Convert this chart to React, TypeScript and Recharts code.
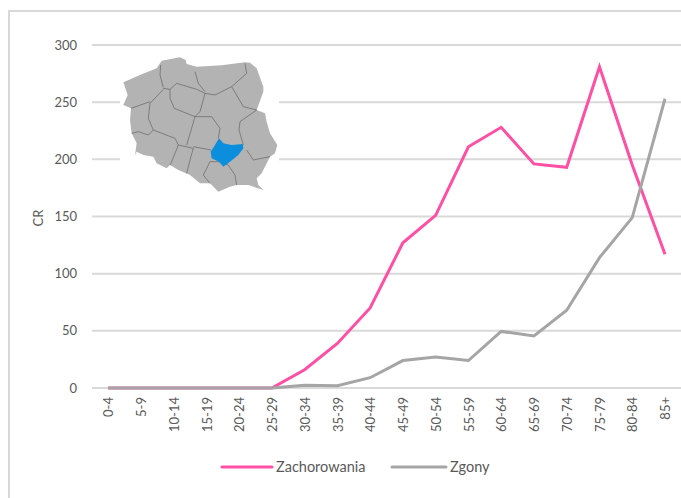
import React from 'react';
import { LineChart, Line, XAxis, YAxis, CartesianGrid, Legend } from 'recharts';

const ageGroups = ['0-4', '5-9', '10-14', '15-19', '20-24', '25-29', '30-34', '35-39', '40-44', '45-49', '50-54', '55-59', '60-64', '65-69', '70-74', '75-79', '80-84', '85+'];
const zachorowania = [0, 0, 0, 0, 0, 0, 16, 39, 70, 127, 151, 211, 228, 196, 193, 281, 195, 117];
const zgony = [0, 0, 0, 0, 0, 0, 2.5, 2, 9, 24, 27, 24, 49.5, 45.5, 68, 114, 149, 253];
const yTicks = [0, 50, 100, 150, 200, 250, 300];

const data = ageGroups.map((age, i) => ({ age, Zachorowania: zachorowania[i], Zgony: zgony[i] }));

const FONT = 'Lato, sans-serif';
const TEXT = '#595959';
const GRID = '#d9d9d9';
const PINK = '#ff4fa5';
const GREY = '#a5a5a5';

// inset map of Poland, outline
const polandOutline = 'M25,97 L75,75 L125,55 L140,32 L195,22 L212,30 L215,42 L245,50 L320,46 L390,37 L405,38 L425,55 L445,110 L445,125 L425,180 L450,190 L455,215 L465,250 L487,285 L480,310 L465,320 L440,370 L425,385 L430,405 L445,420 L400,405 L365,405 L345,410 L310,425 L285,400 L255,400 L225,375 L190,360 L165,345 L155,355 L125,340 L115,320 L85,315 L65,305 L60,315 L65,280 L50,250 L45,210 L48,175 L25,165 L38,135 Z';
const regionBorders = [
  'M137,45 L135,75 L145,112',
  'M240,65 L250,100 L270,125',
  'M390,40 L395,70 L350,110 L300,135 L270,130',
  'M145,115 L165,118 L185,100 L245,118 L270,130 L255,185 L240,200',
  'M165,118 L165,145 L178,175 L240,200',
  'M145,118 L105,160 L100,205 L115,240 L180,265 L190,285',
  'M48,175 L105,155',
  'M50,250 L70,245 L100,255 L115,240',
  'M190,285 L170,335 L165,345',
  'M190,285 L235,295 L225,330 L215,370',
  'M285,335 L265,375 L285,400',
  'M240,200 L215,285',
  'M240,200 L290,200 L315,235 L310,265',
  'M235,290 L288,300',
  'M350,110 L385,170 L425,180 L375,215 L372,240 L385,285',
  'M395,300 L415,330 L465,320',
  'M340,345 L360,375 L365,405',
  'M340,345 L310,335 L285,335',
];
const swietokrzyskie = 'M300,285 L312,265 L325,280 L350,285 L383,282 L385,295 L370,315 L345,335 L325,350 L312,335 L290,325 L287,305 Z';

const PolandMap = () => (
  <svg width={159} height={137} viewBox="0 0 477 411" style={{ position: 'absolute', left: 120, top: 55 }}>
    <rect width={477} height={411} fill="#ffffff" />
    <g transform="translate(-15,-15)">
      <path d={polandOutline} fill="#b3b3b3" />
      {regionBorders.map((d) => (
        <path key={d} d={d} fill="none" stroke="#6e6e6e" strokeWidth={2.4} />
      ))}
      <path d={swietokrzyskie} fill="#0b8fdd" />
    </g>
  </svg>
);

const LegendRow = () => (
  <svg width={300} height={20} style={{ display: 'block' }}>
    <line x1={2} x2={52} y1={10} y2={10} stroke={PINK} strokeWidth={3} strokeLinecap="round" />
    <text x={56} y={15} fontFamily={FONT} fontSize={14.5} fill={TEXT}>Zachorowania</text>
    <line x1={172} x2={226} y1={10} y2={10} stroke={GREY} strokeWidth={3} strokeLinecap="round" />
    <text x={230} y={15} fontFamily={FONT} fontSize={14.5} fill={TEXT}>Zgony</text>
  </svg>
);

export default function App() {
  return (
    <div style={{ position: 'absolute', left: 0, top: 0, width: 681, height: 498, overflow: 'hidden', background: '#fff' }}>
      <div style={{ position: 'absolute', left: 8, top: 10, width: 700, height: 520, border: `2px solid ${GRID}`, boxSizing: 'border-box' }} />
      <LineChart
        width={681}
        height={498}
        data={data}
        margin={{ top: 45, right: 0, bottom: 0, left: 0 }}
        style={{ position: 'absolute', left: 0, top: 0 }}
      >
        <CartesianGrid vertical={false} stroke={GRID} strokeWidth={2} />
        <XAxis
          dataKey="age"
          interval={0}
          height={90}
          padding={{ left: 16, right: 16 }}
          angle={-90}
          textAnchor="end"
          dy={-4}
          dx={-4}
          tickMargin={7}
          tickLine={false}
          axisLine={false}
          tick={{ fontFamily: FONT, fontSize: 13, fill: TEXT }}
        />
        <YAxis
          width={92}
          domain={[0, 300]}
          ticks={yTicks}
          tickLine={false}
          axisLine={false}
          tickMargin={9}
          tick={{ fontFamily: FONT, fontSize: 13, fill: TEXT }}
          label={{ value: 'CR', angle: -90, position: 'insideLeft', offset: 38, dy: 10, fontFamily: FONT, fontSize: 13, fill: TEXT }}
        />
        <Legend verticalAlign="bottom" content={LegendRow} wrapperStyle={{ left: 220, bottom: 21, width: 300 }} />
        <Line dataKey="Zachorowania" stroke={PINK} strokeWidth={3} dot={false} isAnimationActive={false} />
        <Line dataKey="Zgony" stroke={GREY} strokeWidth={3} dot={false} isAnimationActive={false} />
      </LineChart>
      <PolandMap />
    </div>
  );
}
